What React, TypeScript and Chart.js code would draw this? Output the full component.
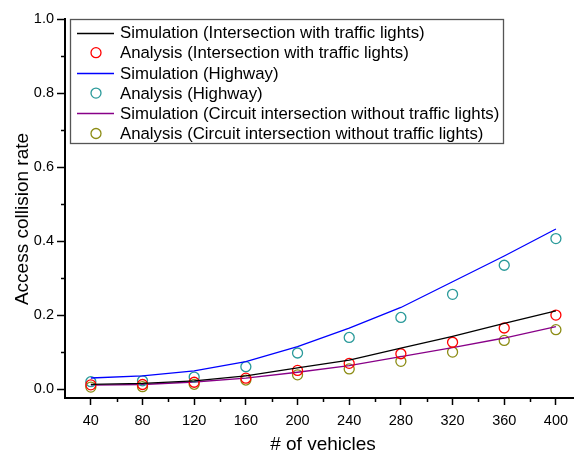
import React, { useEffect, useRef } from "react";
import { Chart, registerables } from "chart.js";

Chart.register(...registerables);

const vehicles = [40, 80, 120, 160, 200, 240, 280, 320, 360, 400];
const simLights = [0.0135, 0.016, 0.023, 0.036, 0.058, 0.079, 0.111, 0.143, 0.178, 0.212];
const anaLights = [0.012, 0.013, 0.019, 0.030, 0.051, 0.070, 0.096, 0.127, 0.1655, 0.2005];
const simHighway = [0.0305, 0.036, 0.050, 0.0745, 0.115, 0.165, 0.221, 0.2905, 0.360, 0.433];
const anaHighway = [0.0205, 0.023, 0.033, 0.061, 0.098, 0.140, 0.194, 0.2565, 0.335, 0.407];
const simCircuit = [0.011, 0.013, 0.0197, 0.030, 0.046, 0.064, 0.088, 0.1125, 0.1385, 0.169];
const anaCircuit = [0.006, 0.007, 0.0135, 0.025, 0.039, 0.055, 0.0756, 0.1005, 0.132, 0.161];

const xTicks = [40, 80, 120, 160, 200, 240, 280, 320, 360, 400];
const xMinorTicks = [60, 100, 140, 180, 220, 260, 300, 340, 380];
const yTicks = [0, 0.2, 0.4, 0.6, 0.8, 1.0];
const yMinorTicks = [0.1, 0.3, 0.5, 0.7, 0.9];

const labels = [
  "Simulation (Intersection with traffic lights)",
  "Analysis (Intersection with traffic lights)",
  "Simulation (Highway)",
  "Analysis (Highway)",
  "Simulation (Circuit intersection without traffic lights)",
  "Analysis (Circuit intersection without traffic lights)",
];
const xTitle = "# of vehicles";
const yTitle = "Access collision rate";

const FONT = "'Liberation Sans', Arial, sans-serif";

const minorTicksPlugin = {
  id: "minorTicks",
  afterDraw(chart: any) {
    const ctx = chart.ctx;
    const xs = chart.scales.x;
    const ys = chart.scales.y;
    const area = chart.chartArea;
    ctx.save();
    ctx.strokeStyle = "#000";
    ctx.lineWidth = 1.5;
    ctx.beginPath();
    xMinorTicks.forEach((v) => {
      const px = Math.round(xs.getPixelForValue(v)) + 0.5;
      ctx.moveTo(px, area.bottom);
      ctx.lineTo(px, area.bottom + 4);
    });
    yMinorTicks.forEach((v) => {
      const py = Math.round(ys.getPixelForValue(v)) + 0.5;
      ctx.moveTo(area.left, py);
      ctx.lineTo(area.left - 4, py);
    });
    ctx.stroke();
    // axis titles
    ctx.fillStyle = "#000";
    ctx.font = `19px ${FONT}`;
    ctx.textAlign = "center";
    ctx.textBaseline = "middle";
    ctx.fillText(xTitle, 323, 445);
    ctx.translate(22.5, 219);
    ctx.rotate(-Math.PI / 2);
    ctx.fillText(yTitle, 0, 0);
    ctx.restore();
  },
};

const legendPlugin = {
  id: "boxLegend",
  afterDraw(chart: any) {
    const ctx = chart.ctx;
    const bx = 70, by = 19, bw = 433, bh = 124;
    ctx.save();
    ctx.fillStyle = "#fff";
    ctx.fillRect(bx, by, bw, bh);
    ctx.strokeStyle = "#555";
    ctx.lineWidth = 1.3;
    ctx.strokeRect(bx + 0.5, by + 0.5, bw, bh);
    ctx.font = `16.8px ${FONT}`;
    ctx.textBaseline = "middle";
    ctx.textAlign = "left";
    chart.data.datasets.forEach((ds: any, i: number) => {
      const y = 32.5 + i * 20.2;
      if (ds.showLine !== false) {
        ctx.strokeStyle = ds.borderColor;
        ctx.lineWidth = 1.3;
        ctx.beginPath();
        ctx.moveTo(77, Math.round(y) + 0.5);
        ctx.lineTo(114, Math.round(y) + 0.5);
        ctx.stroke();
      } else {
        ctx.strokeStyle = ds.pointBorderColor;
        ctx.lineWidth = 1.3;
        ctx.beginPath();
        ctx.arc(96, y, 5, 0, Math.PI * 2);
        ctx.stroke();
      }
      ctx.fillStyle = "#000";
      ctx.fillText(ds.label, 120, y + 1);
    });
    ctx.restore();
  },
};

export default function App() {
  const ref = useRef<HTMLCanvasElement | null>(null);
  useEffect(() => {
    if (!ref.current) return;
    const mk = (v: number[]) => vehicles.map((x, i) => ({ x, y: v[i] }));
    const lineDs = (label: string, data: number[], color: string) => ({
      label,
      data: mk(data),
      borderColor: color,
      backgroundColor: color,
      borderWidth: 1.3,
      pointRadius: 0,
      tension: 0,
      showLine: true,
    });
    const ptDs = (label: string, data: number[], color: string) => ({
      label,
      data: mk(data),
      borderColor: color,
      pointBorderColor: color,
      pointBackgroundColor: "rgba(0,0,0,0)",
      pointRadius: 5,
      pointBorderWidth: 1.3,
      showLine: false,
    });
    const chart = new Chart(ref.current, {
      type: "line",
      data: {
        datasets: [
          lineDs(labels[0], simLights, "#000000"),
          ptDs(labels[1], anaLights, "#ff0000"),
          lineDs(labels[2], simHighway, "#0000ff"),
          ptDs(labels[3], anaHighway, "#2a9a9a"),
          lineDs(labels[4], simCircuit, "#880088"),
          ptDs(labels[5], anaCircuit, "#8c8c14"),
        ] as any,
      },
      options: {
        animation: false,
        responsive: false,
        devicePixelRatio: 1,
        layout: { autoPadding: false, padding: { top: 19, right: 0, left: 0, bottom: 0 } },
        plugins: { legend: { display: false }, tooltip: { enabled: false } },
        scales: {
          x: {
            type: "linear",
            min: 20,
            max: 414,
            afterBuildTicks: (s: any) => {
              s.ticks = xTicks.map((v) => ({ value: v }));
            },
            afterFit: (s: any) => {
              s.height = 60;
              s.paddingRight = 0;
              s.paddingLeft = 0;
            },
            grid: { drawOnChartArea: false, tickLength: 7, tickWidth: 1.5, tickColor: "#000" },
            border: { display: true, color: "#000", width: 2 },
            ticks: {
              color: "#000",
              font: { family: FONT, size: 14.5 },
              padding: 7,
              maxRotation: 0,
              autoSkip: false,
              callback: (v: any) => String(v),
            },
            title: { display: false },
          },
          y: {
            type: "linear",
            min: -0.0235,
            max: 1.0,
            afterBuildTicks: (s: any) => {
              s.ticks = yTicks.map((v) => ({ value: v }));
            },
            afterFit: (s: any) => {
              s.width = 65;
              s.paddingTop = 0;
              s.paddingBottom = 0;
            },
            grid: { drawOnChartArea: false, tickLength: 8, tickWidth: 1.5, tickColor: "#000" },
            border: { display: true, color: "#000", width: 2 },
            ticks: {
              color: "#000",
              font: { family: FONT, size: 14.5 },
              padding: 3,
              autoSkip: false,
              callback: (v: any) => Number(v).toFixed(1),
            },
            title: { display: false },
          },
        },
      },
      plugins: [minorTicksPlugin, legendPlugin],
    });
    return () => chart.destroy();
  }, []);
  return (
    <div style={{ position: "absolute", left: 0, top: 0, width: 574, height: 458, background: "#fff" }}>
      <canvas ref={ref} width={574} height={458} style={{ width: 574, height: 458 }} />
    </div>
  );
}
